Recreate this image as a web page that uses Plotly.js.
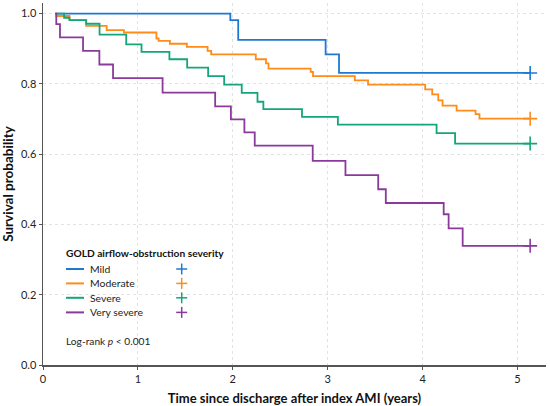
<!DOCTYPE html>
<html>
<head>
<meta charset="utf-8">
<script src="https://cdn.plot.ly/plotly-3.0.1.min.js"></script>
<style>html,body{margin:0;padding:0;background:#fff;}#chart{width:550px;height:406px;}</style>
</head>
<body>
<div id="chart"></div>
<script>
// ---- data ----
const groups = ["Mild", "Moderate", "Severe", "Very severe"];
const colors = ["#1f78d2", "#ff8c1a", "#14a67a", "#8b3a9c"];

const mildTime = [0.13, 1.974, 2.057, 2.978, 3.119, 5.133];
const mildSurv = [1.000, 0.981, 0.925, 0.884, 0.831, 0.831];

const moderateTime = [0.13, 0.140, 0.279, 0.455, 0.671, 0.853, 1.195, 1.218, 1.337, 1.516, 1.734, 1.772, 2.242, 2.350, 2.376, 2.820, 2.845, 3.286, 3.425, 4.027, 4.101, 4.165, 4.210, 4.358, 4.558, 4.599, 5.133];
const moderateSurv = [1.000, 0.993, 0.981, 0.965, 0.953, 0.946, 0.929, 0.922, 0.914, 0.905, 0.894, 0.884, 0.870, 0.858, 0.843, 0.834, 0.822, 0.810, 0.798, 0.784, 0.770, 0.753, 0.738, 0.724, 0.714, 0.701, 0.701];

const severeTime = [0.13, 0.222, 0.279, 0.455, 0.596, 0.877, 1.038, 1.332, 1.519, 1.740, 1.909, 2.094, 2.260, 2.322, 2.729, 3.107, 4.147, 4.342, 5.133];
const severeSurv = [1.000, 0.988, 0.981, 0.971, 0.940, 0.912, 0.891, 0.870, 0.846, 0.822, 0.798, 0.774, 0.749, 0.728, 0.706, 0.684, 0.660, 0.630, 0.630];

const verySevereTime = [0.13, 0.140, 0.179, 0.422, 0.594, 0.738, 1.260, 1.814, 1.980, 2.122, 2.231, 2.842, 3.187, 3.532, 3.612, 4.222, 4.274, 4.422, 5.133];
const verySevereSurv = [1.000, 0.970, 0.932, 0.894, 0.855, 0.816, 0.775, 0.736, 0.699, 0.662, 0.624, 0.581, 0.540, 0.500, 0.461, 0.429, 0.389, 0.339, 0.339];

const xTicks = [0, 1, 2, 3, 4, 5];
const yTicks = [0, 0.2, 0.4, 0.6, 0.8, 1.0];

const legendTitle = "GOLD airflow-obstruction severity";
const pValueText = "Log-rank <i>p</i> &lt; 0.001";
const xTitle = "Time since discharge after index AMI (years)";
const yTitle = "Survival probability";

// ---- build ----
const series = [
  [mildTime, mildSurv],
  [moderateTime, moderateSurv],
  [severeTime, severeSurv],
  [verySevereTime, verySevereSurv]
];

const FONT = "Lato, 'Open Sans', 'DejaVu Sans', sans-serif";
const traces = [];
series.forEach(function (s, i) {
  traces.push({
    type: "scatter", mode: "lines", name: groups[i],
    x: s[0], y: s[1],
    line: {shape: "hv", color: colors[i], width: 1.8},
    showlegend: false, hoverinfo: "skip"
  });
  const n = s[0].length - 1;
  traces.push({
    type: "scatter", mode: "markers", name: groups[i] + " censored",
    x: [s[0][n]], y: [s[1][n]],
    marker: {symbol: "cross-thin-open", size: 10, color: colors[i], line: {color: colors[i], width: 1.6}},
    showlegend: false, hoverinfo: "skip"
  });
});

// manual legend (layout decoration in paper coordinates)
const L = {l: 43, r: 4, t: 3, b: 41};
const W = 550, H = 406;
const pw = W - L.l - L.r, ph = H - L.t - L.b;
function px(x) { return (x - L.l) / pw; }
function py(y) { return (H - L.b - y) / ph; }

const annotations = [];
const shapes = [];
annotations.push({
  xref: "paper", yref: "paper", x: px(63.5), y: py(252.5), xanchor: "left", yanchor: "middle",
  text: legendTitle, showarrow: false,
  font: {family: FONT, size: 10.2, color: "#111", weight: "bold"}
});
const rowY = [269, 283.4, 297.8, 312.4];
groups.forEach(function (g, i) {
  const yy = py(rowY[i]);
  shapes.push({type: "line", xref: "paper", yref: "paper", x0: px(66), x1: px(84), y0: yy, y1: yy,
    line: {color: colors[i], width: 2}});
  annotations.push({
    xref: "paper", yref: "paper", x: px(88), y: yy, xanchor: "left", yanchor: "middle",
    text: g, showarrow: false, font: {family: FONT, size: 10.4, color: "#222"}
  });
  const cx = px(181.7), hx = 5.5 / pw, hy = 5.5 / ph;
  shapes.push({type: "line", xref: "paper", yref: "paper", x0: cx - hx, x1: cx + hx, y0: yy, y1: yy,
    line: {color: colors[i], width: 1.5}});
  shapes.push({type: "line", xref: "paper", yref: "paper", x0: cx, x1: cx, y0: yy - hy, y1: yy + hy,
    line: {color: colors[i], width: 1.5}});
});
annotations.push({
  xref: "paper", yref: "paper", x: px(63.5), y: py(341), xanchor: "left", yanchor: "middle",
  text: pValueText, showarrow: false, font: {family: FONT, size: 10.2, color: "#222"}
});

const layout = {
  width: W, height: H,
  margin: L,
  paper_bgcolor: "#fff", plot_bgcolor: "#fff",
  font: {family: FONT, size: 11, color: "#222"},
  showlegend: false,
  xaxis: {
    range: [0, 5.3], tickvals: xTicks, ticktext: xTicks.map(String),
    showline: true, linecolor: "#555", linewidth: 1.5,
    ticks: "outside", ticklen: 3, tickcolor: "#555",
    showgrid: true, gridcolor: "#e2e2e2", griddash: "dot", gridwidth: 1,
    zeroline: false,
    tickfont: {family: FONT, size: 11, color: "#222"},
    title: {text: xTitle, font: {family: FONT, size: 13, color: "#111", weight: "bold"}, standoff: 13}
  },
  yaxis: {
    range: [0, 1.03], tickvals: yTicks, tickformat: ".1f",
    showline: true, linecolor: "#555", linewidth: 1.5,
    ticks: "outside", ticklen: 3, tickcolor: "#555",
    showgrid: true, gridcolor: "#e2e2e2", griddash: "dot", gridwidth: 1,
    zeroline: false,
    tickfont: {family: FONT, size: 11, color: "#222"},
    title: {text: yTitle, font: {family: FONT, size: 13.5, color: "#111", weight: "bold"}, standoff: 6}
  },
  shapes: shapes,
  annotations: annotations
};

Plotly.newPlot("chart", traces, layout, {displayModeBar: false, staticPlot: true});
</script>
</body>
</html>
